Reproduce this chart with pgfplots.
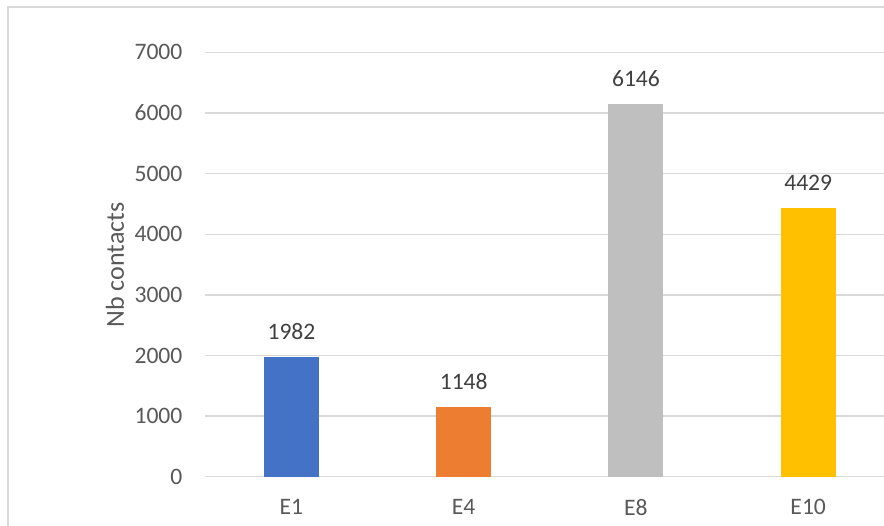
\documentclass[border=0pt]{standalone}
\usepackage{pgfplots}
\pgfplotsset{compat=1.18}
\usepackage{fontspec}
\setmainfont{Carlito}
\definecolor{cblue}{HTML}{4472C4}
\definecolor{corange}{HTML}{ED7D31}
\definecolor{cgray}{HTML}{BFBFBF}
\definecolor{cyellow}{HTML}{FFC000}
\definecolor{gridc}{HTML}{D9D9D9}
\definecolor{tickc}{HTML}{595959}
\definecolor{labc}{HTML}{404040}
\begin{document}
\begin{tikzpicture}
\useasboundingbox (0,0) rectangle (663pt,393.75pt);
\clip (0,0) rectangle (663pt,393.75pt);
\fill[white] (0,0) rectangle (663pt,393.75pt);
\draw[gridc, line width=1.1pt] (6pt,-20pt) rectangle (700pt,388.5pt);
\begin{axis}[
  at={(154pt,36.2pt)}, anchor=south west,
  scale only axis, width=509pt, height=318.3pt,
  xmin=-0.5, xmax=3.44, ymin=0, ymax=7000,
  axis line style={draw=none},
  tick style={draw=none},
  ymajorgrids, grid style={gridc, line width=1pt},
  ytick={0,1000,...,7000},
  xtick={0,1,2,3}, xticklabels={E1,E4,E8,E10},
  scaled y ticks=false,
  /pgf/number format/1000 sep={},
  /pgf/number format/assume math mode=true,
  tick label style={font=\fontsize{17.7}{20}\selectfont, text=tickc, inner sep=0pt},
  yticklabel style={anchor=east, xshift=-17pt},
  xticklabel style={anchor=north, yshift=-17pt},
  major tick length=0pt,
  ybar, bar width=41.25pt, bar shift=0pt,
  nodes near coords,
  nodes near coords style={font=\fontsize{17.7}{20}\selectfont, text=labc, inner sep=0pt, anchor=south, yshift=12.75pt, /pgf/number format/1000 sep={}, /pgf/number format/assume math mode=true},
  clip=false,
]
\addplot[fill=cblue, draw=none] coordinates {(0,1982)};
\addplot[fill=corange, draw=none] coordinates {(1,1148)};
\addplot[fill=cgray, draw=none] coordinates {(2,6146)};
\addplot[fill=cyellow, draw=none] coordinates {(3,4429)};
\end{axis}
\node[rotate=90, text=tickc, font=\fontsize{19.5}{22}\selectfont, inner sep=0pt] at (86.25pt,195pt) {Nb contacts};
\end{tikzpicture}
\end{document}
